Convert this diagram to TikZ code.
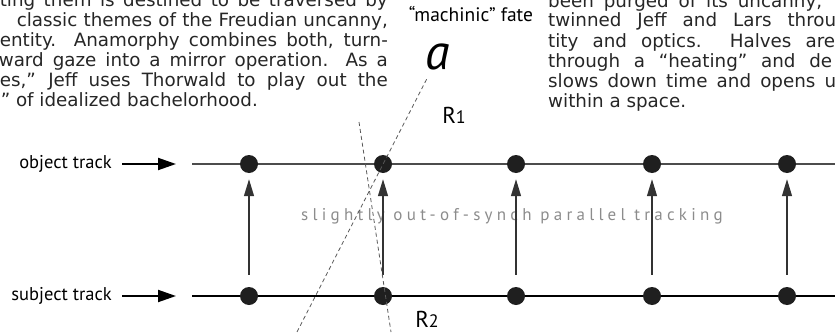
\documentclass[tikz,border=0pt]{standalone}
\usepackage{fontspec}
\setmainfont{DejaVu Sans}
\newfontfamily\lblfont{PT Sans}
\newfontfamily\gapfont[LetterSpace=25]{PT Sans}
\usetikzlibrary{arrows.meta}
\newcommand\jline[2]{\makebox[#1][s]{#2}}

\begin{document}
\begin{tikzpicture}[x=1pt,y=-1pt,
  para/.style={inner sep=0pt,text=black!85,font=\fontsize{18.3}{20}\selectfont},
  lbl/.style={inner sep=0pt,font=\lblfont\fontsize{18.5}{20}\selectfont},
  dot/.style={circle,fill=black!88,inner sep=0pt,minimum size=18pt},
  trk/.style={line width=2pt,-{Triangle[length=18pt,width=12pt]}},
  up/.style={line width=1.3pt,black!80,-{Triangle[length=17pt,width=10pt]}},
  ray/.style={black!65,line width=0.8pt,dash pattern=on 4pt off 3pt}]
\useasboundingbox (0,0) rectangle (835,332);
\clip (0,0) rectangle (835,332);
% text running past the page
\node[para,anchor=base east](l1) at (388,6) {\jline{388pt}{ting them is destined to be traversed by}};
\node[para,anchor=base east](l2) at (388,26) {\jline{371pt}{classic themes of the Freudian uncanny,}};
\node[para,anchor=base east](l3) at (388,46) {\jline{388pt}{entity. Anamorphy combines both, turn-}};
\node[para,anchor=base east](l4) at (388,66) {\jline{389pt}{ward gaze into a mirror operation. As a}};
\node[para,anchor=base east](l5) at (388,86) {\jline{388pt}{es,” Jeff uses Thorwald to play out the}};
\node[para,anchor=base east](l6) at (258,106) {” of idealized bachelorhood.};
\node[para,anchor=base west](r1) at (548,7) {\jline{274pt}{been purged of its uncanny,}};
\node[para,anchor=base west](r2) at (548,27) {\jline{288pt}{twinned Jeff and Lars throu}};
\node[para,anchor=base west](r3) at (548,47) {\jline{287pt}{tity and optics.\ \ Halves are}};
\node[para,anchor=base west](r4) at (548,67) {\jline{284pt}{through a “heating” and de}};
\node[para,anchor=base west](r5) at (548,87) {\jline{288pt}{slows down time and opens u}};
\node[para,anchor=base west](r6) at (548,107) {within a space.};
% labels
\node[lbl,font=\lblfont\fontsize{19.5}{20}\selectfont,anchor=base](fate) at (471,21) {“machinic” fate};
\node[lbl,font=\lblfont\itshape\fontsize{50}{50}\selectfont](a) at (438,57) {a};
\node[lbl,font=\lblfont\fontsize{23}{23}\selectfont,anchor=base](R1) at (454,123) {R{\fontsize{18}{18}\selectfont 1}};
\node[lbl,font=\lblfont\fontsize{23}{23}\selectfont,anchor=base](R2) at (427,327) {R{\fontsize{18}{18}\selectfont 2}};
\node[lbl,anchor=base west,text=black!45,font=\gapfont\fontsize{17}{17}\selectfont](sync) at (301,220) {slightly out-of-synch parallel tracking};
% tracks
\node[lbl,anchor=east](ot) at (112,164) {object track};
\node[lbl,anchor=east](st) at (112,296) {subject track};
\coordinate (oa) at (192,164);
\coordinate (ob) at (835,164);
\coordinate (sa) at (192,296);
\coordinate (sb) at (835,296);
\draw[line width=1.3pt,black!70](oa)--(ob);
\draw[line width=1.3pt](sa)--(sb);
\draw[trk,shorten <=10pt,shorten >=16pt](ot.east)--(oa);
\draw[trk,shorten <=10pt,shorten >=16pt](st.east)--(sa);
\foreach \i/\x in {1/249,2/383,3/516,4/652,5/787}{
  \node[dot](o\i) at (\x,164) {};
  \node[dot](s\i) at (\x,296) {};
  \draw[up,shorten <=12pt,shorten >=6pt](s\i)--(o\i);
}
% anamorphic rays
\coordinate (aend) at (297,332);
\coordinate (bbeg) at (359,122);
\coordinate (bend) at (391,332);
\draw[ray,shorten <=25pt](a.center)--(aend);
\draw[ray](bbeg)--(bend);
\end{tikzpicture}
\end{document}
